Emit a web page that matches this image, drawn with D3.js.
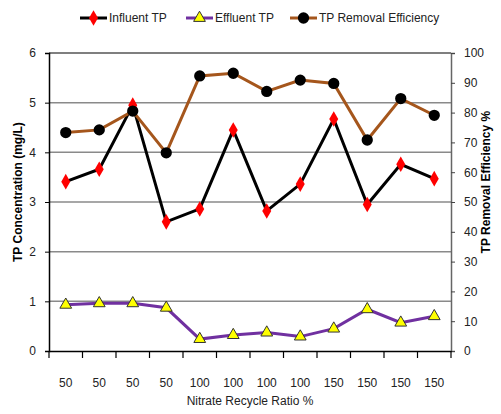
<!DOCTYPE html>
<html>
<head>
<meta charset="utf-8">
<script src="https://cdn.jsdelivr.net/npm/d3@7"></script>
<style>
  body { margin: 0; background: #fff; }
  svg { font-family: "Liberation Sans", Arial, sans-serif; }
  .tick text { fill: #222; font-size: 12px; }
</style>
</head>
<body>
<div id="chart"></div>
<script>
const ratios = ["50", "50", "50", "50", "100", "100", "100", "100", "150", "150", "150", "150"];
const influentTP = [3.41, 3.66, 4.95, 2.60, 2.86, 4.45, 2.82, 3.36, 4.67, 2.95, 3.76, 3.47];
const effluentTP = [0.93, 0.96, 0.96, 0.87, 0.24, 0.32, 0.37, 0.29, 0.45, 0.84, 0.57, 0.70];
const removalEff = [73.3, 74.2, 80.5, 66.5, 92.3, 93.2, 87.1, 90.9, 89.8, 70.8, 84.7, 79.1];
const leftTicks = [0, 1, 2, 3, 4, 5, 6];
const rightTicks = [0, 10, 20, 30, 40, 50, 60, 70, 80, 90, 100];

const width = 501, height = 414;
const margin = { top: 53, right: 50, bottom: 63, left: 49 };
const svg = d3.select("#chart").append("svg")
    .attr("width", width)
    .attr("height", height);

const x = d3.scaleBand()
    .domain(d3.range(ratios.length))
    .range([margin.left, width - margin.right]);
const yL = d3.scaleLinear().domain([0, 6]).range([height - margin.bottom, margin.top]);
const yR = d3.scaleLinear().domain([0, 100]).range([height - margin.bottom, margin.top]);
const cx = i => x(i) + x.bandwidth() / 2;

// gridlines
svg.append("g")
    .selectAll("line")
    .data(leftTicks.slice(1))
    .enter().append("line")
        .attr("x1", margin.left)
        .attr("x2", width - margin.right)
        .attr("y1", d => yL(d))
        .attr("y2", d => yL(d))
        .attr("stroke", d => d === 6 ? "#555" : "#8a8a8a")
        .attr("stroke-width", 1.5);

// axes
const leftAxis = svg.append("g")
    .attr("transform", `translate(${margin.left},0)`)
    .call(d3.axisLeft(yL).tickValues(leftTicks).tickFormat(d3.format("d")).tickSize(4).tickPadding(9));
leftAxis.select(".domain").attr("stroke", "#000").attr("stroke-width", 1.5);

const rightAxis = svg.append("g")
    .attr("transform", `translate(${width - margin.right},0)`)
    .call(d3.axisRight(yR).tickValues(rightTicks).tickSize(4).tickPadding(9));
rightAxis.select(".domain").attr("stroke", "#666").attr("stroke-width", 1.5);
rightAxis.selectAll(".tick line").attr("stroke", "#444");

const bottomAxis = svg.append("g")
    .attr("transform", `translate(0,${height - margin.bottom})`)
    .call(d3.axisBottom(x).tickSize(0).tickPadding(27).tickFormat(i => ratios[i]));
bottomAxis.select(".domain").attr("stroke", "#000").attr("stroke-width", 1.5);

// category separator ticks
svg.append("g")
    .selectAll("line")
    .data(d3.range(ratios.length + 1))
    .enter().append("line")
        .attr("x1", i => margin.left + i * x.step())
        .attr("x2", i => margin.left + i * x.step())
        .attr("y1", height - margin.bottom)
        .attr("y2", height - margin.bottom + 7)
        .attr("stroke", "#000")
        .attr("stroke-width", 1.2);

// series
const series = [
    { name: "Influent TP", values: influentTP, y: yL, color: "#000", marker: "diamond", fill: "#ff0000", stroke: "none" },
    { name: "Effluent TP", values: effluentTP, y: yL, color: "#7030a0", marker: "triangle", fill: "#ffff00", stroke: "#333" },
    { name: "TP Removal Efficiency", values: removalEff, y: yR, color: "#a5561c", marker: "circle", fill: "#000", stroke: "none" }
];
const symbols = {
    diamond: d3.symbol().type(d3.symbolDiamond).size(70),
    triangle: d3.symbol().type(d3.symbolTriangle).size(60),
    circle: d3.symbol().type(d3.symbolCircle).size(100)
};

for (const s of series) {
    const line = d3.line()
        .x((d, i) => cx(i))
        .y(d => s.y(d));
    svg.append("path")
        .datum(s.values)
        .attr("fill", "none")
        .attr("stroke", s.color)
        .attr("stroke-width", 3)
        .attr("d", line);
    svg.append("g")
        .selectAll("path")
        .data(s.values)
        .enter().append("path")
            .attr("transform", (d, i) => `translate(${cx(i)},${s.y(d)})`)
            .attr("d", symbols[s.marker])
            .attr("fill", s.fill)
            .attr("stroke", s.stroke)
            .attr("stroke-width", 1);
}

// legend
const legendX = [80, 186, 290];
const legend = svg.append("g").selectAll("g")
    .data(series)
    .enter().append("g")
        .attr("transform", (d, i) => `translate(${legendX[i]},18)`);
legend.append("line")
    .attr("x1", 0).attr("x2", 27)
    .attr("stroke", d => d.color)
    .attr("stroke-width", 3);
legend.append("path")
    .attr("transform", "translate(13.5,0)")
    .attr("d", d => symbols[d.marker]())
    .attr("fill", d => d.fill)
    .attr("stroke", d => d.stroke);
legend.append("text")
    .attr("x", 29)
    .attr("dy", "0.35em")
    .attr("font-size", 12)
    .attr("fill", "#222")
    .text(d => d.name);

// axis titles
svg.append("text")
    .attr("transform", `translate(22,${yL(3.2)}) rotate(-90)`)
    .attr("text-anchor", "middle")
    .attr("font-size", 12)
    .attr("font-weight", "bold")
    .text("TP Concentration (mg/L)");
svg.append("text")
    .attr("transform", `translate(490,${yL(3.4)}) rotate(-90)`)
    .attr("text-anchor", "middle")
    .attr("font-size", 12)
    .attr("font-weight", "bold")
    .text("TP Removal Efficiency %");
svg.append("text")
    .attr("x", (margin.left + width - margin.right) / 2)
    .attr("y", 405)
    .attr("text-anchor", "middle")
    .attr("font-size", 12)
    .attr("fill", "#222")
    .text("Nitrate Recycle Ratio %");
</script>
</body>
</html>
